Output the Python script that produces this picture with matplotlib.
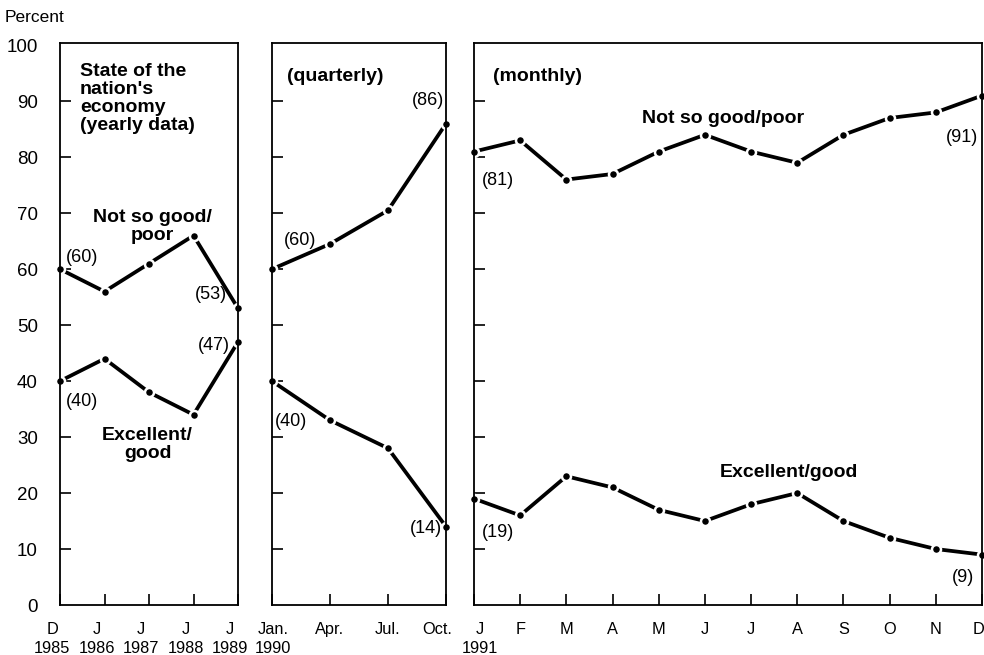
import matplotlib
matplotlib.use("Agg")
import matplotlib.pyplot as plt
from matplotlib.transforms import ScaledTranslation

plt.rcParams['font.family'] = ['Liberation Sans', 'DejaVu Sans']

# yearly data
anios = ["D\n1985", "J\n1986", "J\n1987", "J\n1988", "J\n1989"]
anual_malo = [60, 56, 61, 66, 53]
anual_bueno = [40, 44, 38, 34, 47]

# quarterly data
trimestres = ["Jan.\n1990", "Apr.", "Jul.", "Oct."]
trim_malo = [60, 64.5, 70.5, 86]
trim_bueno = [40, 33, 28, 14]

# monthly data
meses = ["J\n1991", "F", "M", "A", "M", "J", "J", "A", "S", "O", "N", "D"]
mes_malo = [81, 83, 76, 77, 81, 84, 81, 79, 84, 87, 88, 91]
mes_bueno = [19, 16, 23, 21, 17, 15, 18, 20, 15, 12, 10, 9]

W, H = 984, 655
fig = plt.figure(figsize=(W / 100, H / 100), dpi=100)

def caja(x0, x1, y0=605, y1=43):
    return fig.add_axes([x0 / W, (H - y0) / H, (x1 - x0) / W, (y0 - y1) / H])

ax1 = caja(60, 238)
ax2 = caja(272, 446)
ax3 = caja(474, 982)

def linea(ax, y):
    ax.plot(range(len(y)), y, color='black', lw=2.7, marker='o', markersize=6.5,
            markerfacecolor='black', markeredgecolor='white', markeredgewidth=1.8,
            clip_on=False, zorder=2)

# horizontal nudges (px) of the x tick labels, as in the printed original
desplaz = {ax1: [-8, -8, -8, -8, -8],
           ax2: [1, 0, 0, -9],
           ax3: [6] + [0] * 10 + [-4]}

for ax, cats, malo, bueno in [(ax1, anios, anual_malo, anual_bueno),
                              (ax2, trimestres, trim_malo, trim_bueno),
                              (ax3, meses, mes_malo, mes_bueno)]:
    linea(ax, malo)
    linea(ax, bueno)
    ax.set_xlim(0, len(cats) - 1)
    ax.set_ylim(0, 100.4)
    ax.set_xticks(range(len(cats)))
    ax.set_xticklabels(cats, fontsize=11.8, linespacing=1.4)
    ax.set_yticks(range(0, 101, 10))
    ax.tick_params(direction='in', length=8, width=1.2, pad=12)
    ax.tick_params(axis='y', pad=16, labelsize=13.5)
    yt = ax.yaxis.get_major_ticks()
    yt[0].tick1line.set_visible(False)
    yt[-1].tick1line.set_visible(False)
    for lab, dx in zip(ax.get_xticklabels(), desplaz[ax]):
        lab.set_transform(lab.get_transform() + ScaledTranslation(dx / 100, 0, fig.dpi_scale_trans))
    for s in ax.spines.values():
        s.set_linewidth(1.3)
        s.set_zorder(3)
    if ax is not ax1:
        ax.set_yticklabels([])

fig.text(5 / W, (H - 17) / H, "Percent", fontsize=12.5, va='center', ha='left')

neg = dict(fontsize=14, fontweight='bold', linespacing=1.08)
val = dict(fontsize=13, ha='center', va='center')

# left panel labels
ax1.text(0.45, 96.8, "State of the\nnation's\neconomy\n(yearly data)",
         va='top', ha='left', **neg)
ax1.text(2.07, 67.7, "Not so good/\npoor", ha='center', va='center', **neg)
ax1.text(1.97, 28.6, "Excellent/\ngood", ha='center', va='center', **neg)
ax1.text(0.49, 62.1, "(60)", **val)
ax1.text(0.49, 36.3, "(40)", **val)
ax1.text(3.4, 55.4, "(53)", **val)
ax1.text(3.45, 46.4, "(47)", **val)

# middle panel labels
ax2.text(0.26, 96.0, "(quarterly)", va='top', ha='left', **neg)
ax2.text(0.48, 65.2, "(60)", **val)
ax2.text(2.69, 90.2, "(86)", **val)
ax2.text(0.33, 32.7, "(40)", **val)
ax2.text(2.66, 13.6, "(14)", **val)

# right panel labels
ax3.text(0.41, 96.0, "(monthly)", va='top', ha='left', **neg)
ax3.text(5.4, 87.0, "Not so good/poor", ha='center', va='center', **neg)
ax3.text(6.82, 23.75, "Excellent/good", ha='center', va='center', **neg)
ax3.text(0.52, 75.9, "(81)", **val)
ax3.text(10.57, 83.6, "(91)", **val)
ax3.text(0.52, 12.9, "(19)", **val)
ax3.text(10.59, 5.0, "(9)", **val)

fig.savefig("out.png", dpi=100)
